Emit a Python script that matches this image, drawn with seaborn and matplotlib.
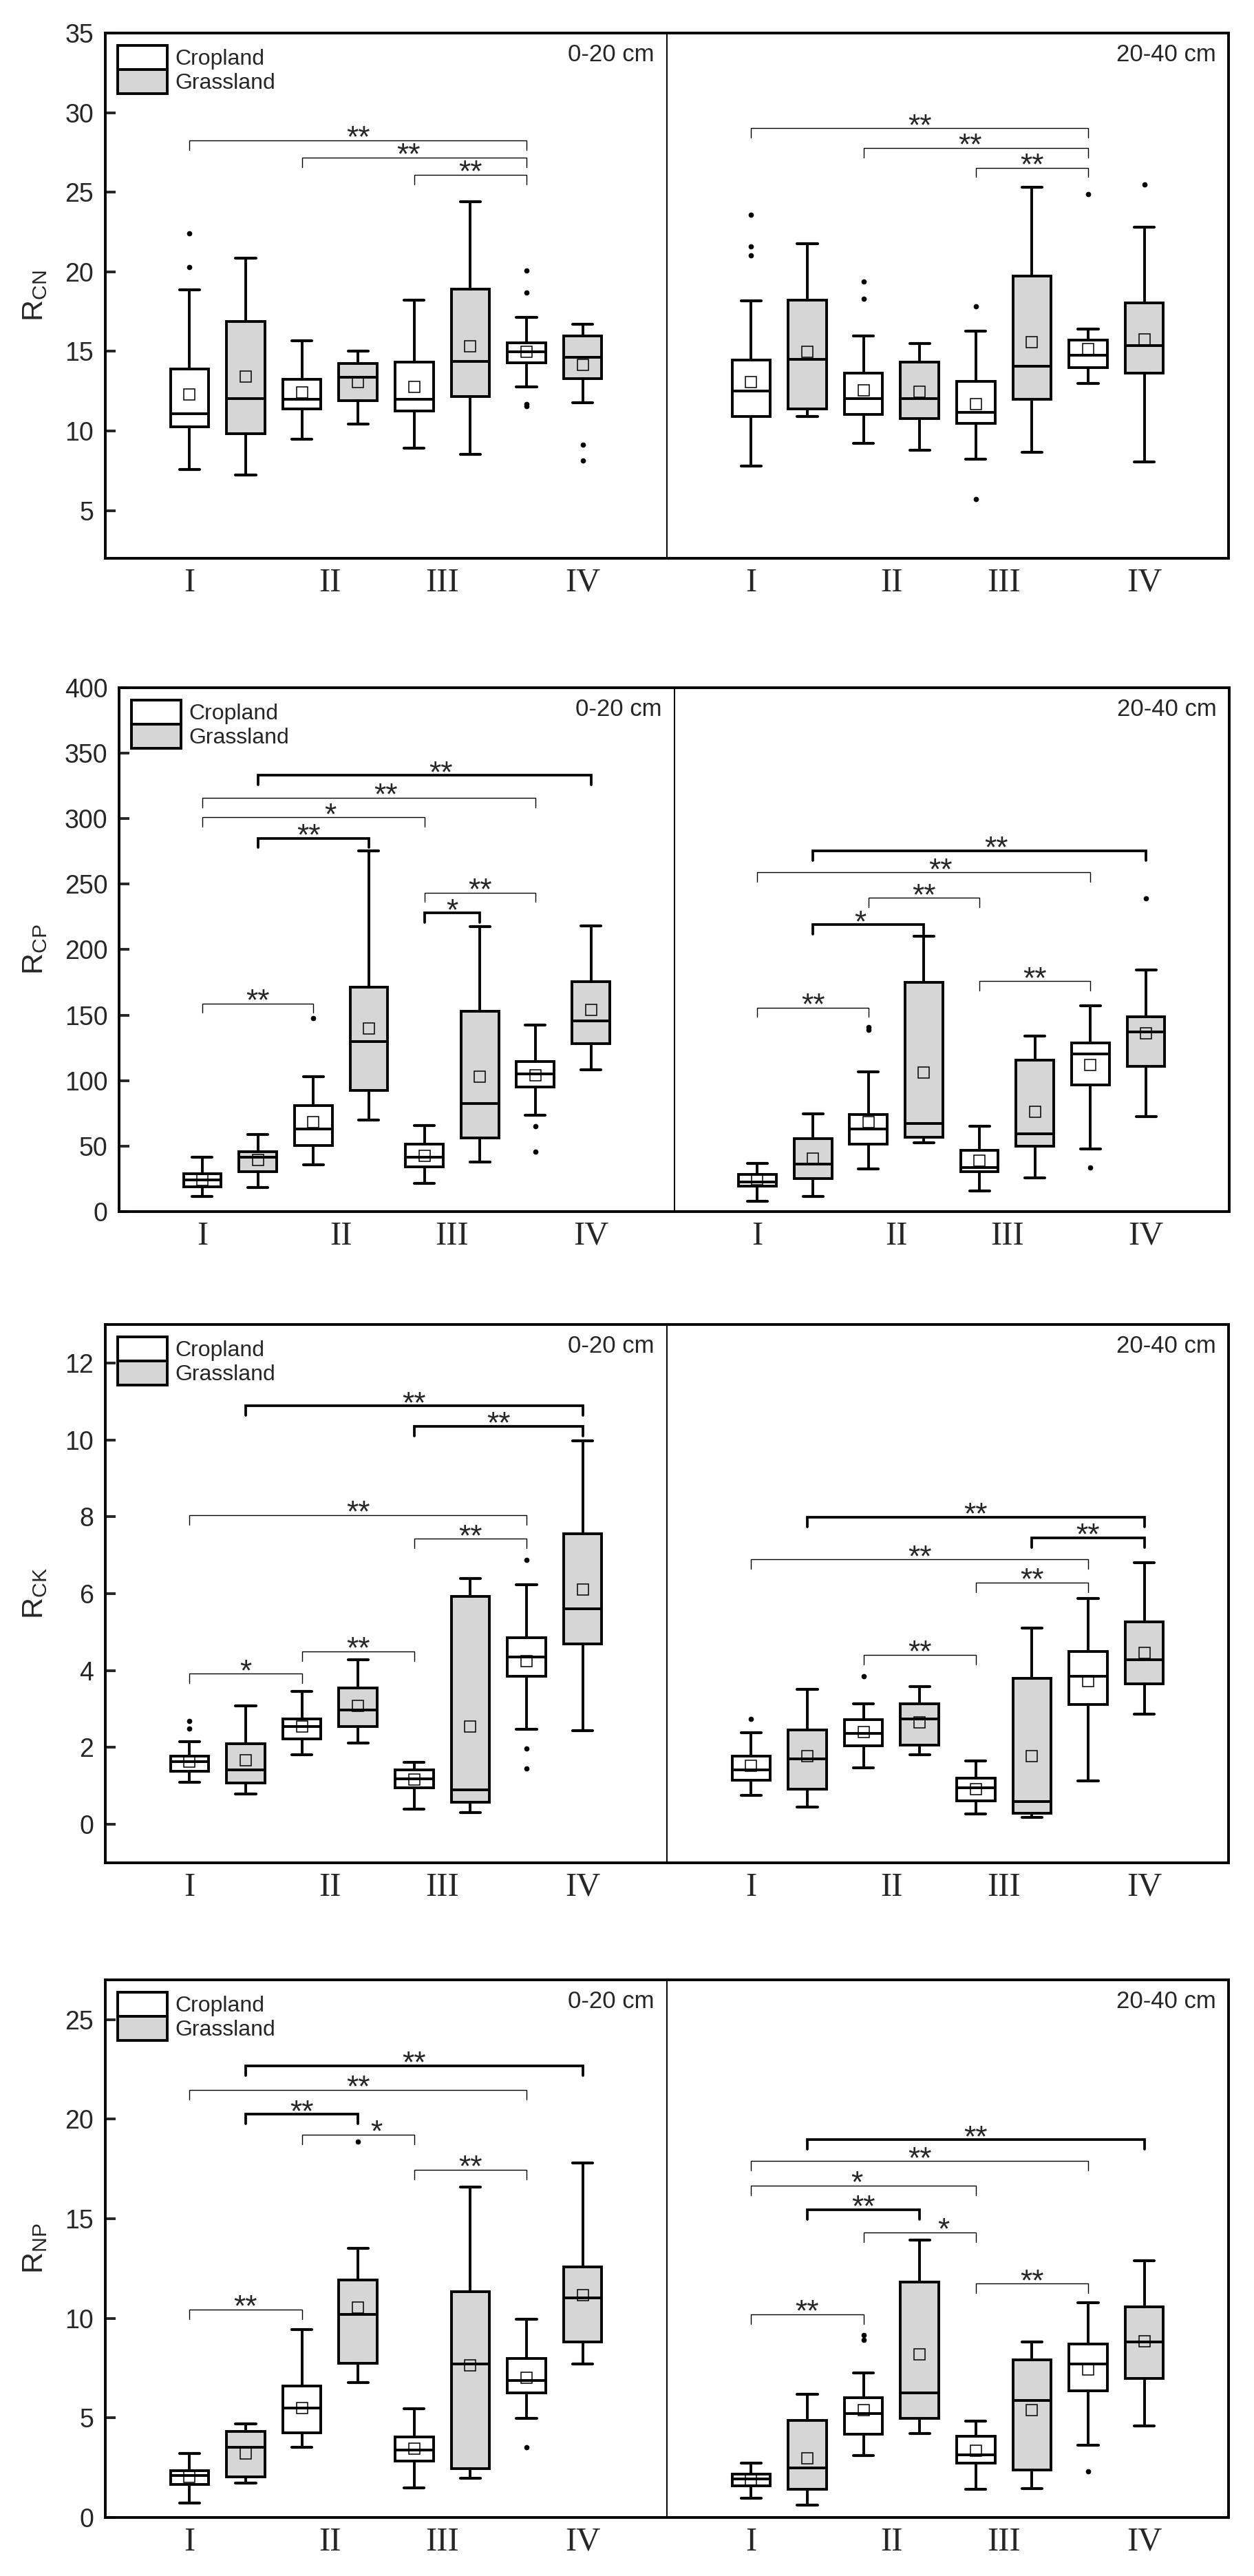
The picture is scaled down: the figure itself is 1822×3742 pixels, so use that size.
import matplotlib
matplotlib.use("Agg")
import matplotlib.pyplot as plt
from matplotlib.patches import Patch
import seaborn as sns

# box order in every list: I, II, III, IV of 0-20 cm then I..IV of 20-40 cm,
# cropland and grassland alternating (C, G, C, G, ...)
positions = [0, 1, 2, 3, 4, 5, 6, 7, 10, 11, 12, 13, 14, 15, 16, 17]
tick_pos = [0, 2.5, 4.5, 7, 10, 12.5, 14.5, 17]
tick_labels = ["I", "II", "III", "IV", "I", "II", "III", "IV"]
land_use = ["Cropland", "Grassland"]
depths = ["0-20 cm", "20-40 cm"]

# ---- R_CN ----
cn_lo = [7.58, 7.23, 9.5, 10.42, 8.94, 8.54, 12.78, 11.77, 7.81, 10.91, 9.22, 8.78, 8.21, 8.64, 12.99, 8.07]
cn_q1 = [10.27, 9.83, 11.38, 11.89, 11.24, 12.17, 14.28, 13.27, 10.91, 11.4, 11.05, 10.77, 10.46, 11.99, 13.98, 13.63]
cn_med = [11.1, 12.03, 11.99, 13.39, 11.99, 14.38, 14.96, 14.63, 12.52, 14.52, 12.03, 12.03, 11.17, 14.07, 14.75, 15.38]
cn_q3 = [13.9, 16.86, 13.25, 14.26, 14.33, 18.9, 15.55, 15.95, 14.47, 18.24, 13.65, 14.33, 13.13, 19.72, 15.69, 18.03]
cn_hi = [18.88, 20.84, 15.67, 15.03, 18.22, 24.39, 17.14, 16.72, 18.17, 21.78, 15.95, 15.5, 16.28, 25.32, 16.39, 22.79]
cn_mean = [12.3, 13.4, 12.43, 13.06, 12.78, 15.34, 14.96, 14.17, 13.06, 14.99, 12.57, 12.45, 11.7, 15.6, 15.13, 15.74]
cn_out = [[22.4, 20.3], [], [], [], [], [], [20.07, 18.69, 11.7, 11.56], [9.15, 8.12],
          [23.59, 21.6, 21.03], [], [19.39, 18.31], [], [17.82, 5.73], [], [24.88], [25.49]]
# significance brackets: (from box, to box, height, label, thick line, star shift)
cn_sig = [(0, 6, 28.25, "**", False, 0), (2, 6, 27.17, "**", False, -0.1), (4, 6, 26.1, "**", False, 0),
          (10, 16, 29.02, "**", False, 0), (12, 16, 27.78, "**", False, -0.1), (14, 16, 26.54, "**", False, 0)]

# ---- R_CP ----
cp_lo = [11.4, 18.2, 35.9, 70.1, 21.4, 37.6, 73.8, 108.3, 7.7, 11.4, 32.8, 52.4, 16, 25.6, 47.6, 72.6]
cp_q1 = [19.1, 30.5, 50.4, 92.6, 34.2, 56.1, 95.2, 128.2, 19.7, 25.4, 51.6, 56.7, 30.5, 49.9, 96.6, 110.8]
cp_med = [24.2, 41.3, 63.2, 129.9, 41.3, 82.3, 105.1, 145.6, 22.8, 36.2, 63, 67.5, 33.9, 59.5, 120.2, 137.3]
cp_q3 = [28.8, 45.9, 80.9, 171.2, 51.3, 153, 114.5, 175.5, 28.5, 55.8, 74.1, 175.2, 46.7, 115.7, 128.8, 149]
cp_hi = [41.3, 58.7, 102.8, 275.2, 65.5, 217.4, 142.4, 218, 36.8, 74.4, 106.8, 210.3, 65, 133.9, 157.3, 184.3]
cp_mean = [24.2, 39.6, 68.4, 139.6, 42.7, 102.8, 104, 154.1, 24.8, 40.5, 68.4, 106, 39, 76.1, 111.7, 135.9]
cp_out = [[], [], [147.6], [], [], [], [65, 45.9], [],
          [], [], [141, 138.7], [], [], [], [33.9], [239]]
cp_sig = [(1, 7, 333, "**", True, 0.3), (0, 6, 316, "**", False, 0.3), (0, 4, 301, "*", False, 0.3),
          (1, 3, 285, "**", True, -0.08), (4, 6, 243.6, "**", False, 0), (4, 5, 228, "*", True, 0),
          (0, 2, 159, "**", False, 0),
          (11, 17, 275.5, "**", True, 0.3), (10, 16, 259, "**", False, 0.3), (12, 14, 239.6, "**", False, 0),
          (11, 13, 219, "*", True, -0.15), (14, 16, 176, "**", False, 0), (10, 12, 155.8, "**", False, 0)]

# ---- R_CK ----
ck_lo = [1.10, 0.79, 1.81, 2.12, 0.39, 0.31, 2.48, 2.44, 0.75, 0.45, 1.47, 1.81, 0.27, 0.18, 1.13, 2.86]
ck_q1 = [1.39, 1.07, 2.22, 2.54, 0.95, 0.58, 3.86, 4.70, 1.15, 0.91, 2.05, 2.06, 0.61, 0.29, 3.11, 3.65]
ck_med = [1.64, 1.41, 2.54, 2.97, 1.18, 0.89, 4.35, 5.61, 1.42, 1.71, 2.37, 2.75, 0.95, 0.59, 3.86, 4.29]
ck_q3 = [1.78, 2.10, 2.74, 3.54, 1.42, 5.93, 4.86, 7.56, 1.78, 2.45, 2.73, 3.14, 1.20, 3.80, 4.49, 5.26]
ck_hi = [2.15, 3.08, 3.45, 4.28, 1.62, 6.40, 6.23, 9.97, 2.39, 3.52, 3.14, 3.59, 1.65, 5.11, 5.87, 6.81]
ck_mean = [1.64, 1.66, 2.54, 3.09, 1.16, 2.55, 4.24, 6.11, 1.52, 1.78, 2.40, 2.65, 0.92, 1.78, 3.72, 4.46]
ck_out = [[2.69, 2.49], [], [], [], [], [], [6.87, 1.98, 1.46], [],
          [2.75], [], [3.85], [], [], [], [], []]
ck_sig = [(1, 7, 10.88, "**", True, 0), (4, 7, 10.35, "**", True, 0), (0, 6, 8.04, "**", False, 0),
          (4, 6, 7.43, "**", False, 0), (2, 4, 4.50, "**", False, 0), (0, 2, 3.92, "*", False, 0),
          (11, 17, 7.99, "**", True, 0), (15, 17, 7.45, "**", True, 0), (10, 16, 6.89, "**", False, 0),
          (14, 16, 6.29, "**", False, 0), (12, 14, 4.41, "**", False, 0)]

# ---- R_NP ----
np_lo = [0.71, 1.73, 3.53, 6.76, 1.48, 1.97, 4.98, 7.70, 0.98, 0.62, 3.12, 4.23, 1.41, 1.45, 3.64, 4.60]
np_q1 = [1.65, 2.03, 4.24, 7.76, 2.82, 2.46, 6.25, 8.83, 1.60, 1.41, 4.19, 4.98, 2.72, 2.37, 6.35, 6.97]
np_med = [2.10, 3.53, 5.48, 10.20, 3.40, 7.70, 6.87, 11.04, 1.92, 2.50, 5.22, 6.25, 3.14, 5.88, 7.72, 8.83]
np_q3 = [2.35, 4.32, 6.59, 11.93, 4.06, 11.33, 7.98, 12.60, 2.18, 4.88, 6.01, 11.81, 4.09, 7.93, 8.70, 10.57]
np_hi = [3.21, 4.71, 9.45, 13.52, 5.47, 16.59, 9.97, 17.79, 2.74, 6.20, 7.25, 13.92, 4.85, 8.83, 10.80, 12.90]
np_mean = [2.03, 3.23, 5.50, 10.54, 3.44, 7.63, 7.02, 11.18, 1.90, 2.99, 5.41, 8.19, 3.34, 5.41, 7.42, 8.85]
np_out = [[], [], [], [18.88], [], [], [3.53], [],
          [], [], [9.17, 8.92], [], [], [], [2.31], []]
np_sig = [(1, 7, 22.69, "**", True, 0), (0, 6, 21.47, "**", False, 0), (1, 3, 20.25, "**", True, 0),
          (2, 4, 19.23, "*", False, 0.33), (4, 6, 17.47, "**", False, 0), (0, 2, 10.44, "**", False, 0),
          (11, 17, 18.97, "**", True, 0), (10, 16, 17.90, "**", False, 0), (10, 14, 16.66, "*", False, -0.12),
          (11, 13, 15.46, "**", True, 0), (12, 14, 14.31, "*", False, 0.43), (14, 16, 11.74, "**", False, 0),
          (10, 12, 10.20, "**", False, 0)]

panels = [
    ("CN", (2, 35), range(5, 36, 5), cn_lo, cn_q1, cn_med, cn_q3, cn_hi, cn_mean, cn_out, cn_sig),
    ("CP", (0, 400), range(0, 401, 50), cp_lo, cp_q1, cp_med, cp_q3, cp_hi, cp_mean, cp_out, cp_sig),
    ("CK", (-1, 13), range(0, 13, 2), ck_lo, ck_q1, ck_med, ck_q3, ck_hi, ck_mean, ck_out, ck_sig),
    ("NP", (0, 27), range(0, 26, 5), np_lo, np_q1, np_med, np_q3, np_hi, np_mean, np_out, np_sig),
]

# axes boxes in pixels (left, top, right, bottom)
boxes_px = [(153, 48, 1785, 811), (173, 999, 1786, 1760), (153, 1924, 1785, 2706), (153, 2876, 1785, 3657)]
W, H = 1822, 3742
GRASS = "#d6d6d6"

sns.set_style("ticks")
plt.rcParams["font.family"] = ["Liberation Sans", "DejaVu Sans"]
plt.rcParams["mathtext.default"] = "regular"

fig = plt.figure(figsize=(W / 100, H / 100), dpi=100)

for (name, ylim, yticks, lo, q1, med, q3, hi, mean, out, sig), (l, t, r, b) in zip(panels, boxes_px):
    ax = fig.add_axes([l / W, 1 - b / H, (r - l) / W, (b - t) / H])

    stats = [dict(whislo=lo[i], q1=q1[i], med=med[i], q3=q3[i], whishi=hi[i],
                  mean=mean[i], fliers=out[i]) for i in range(len(positions))]
    for k, fc in enumerate(["white", GRASS]):
        idx = list(range(k, len(positions), 2))
        ax.bxp([stats[i] for i in idx], positions=[positions[i] for i in idx],
               widths=0.68, capwidths=0.36, showmeans=True, patch_artist=True,
               manage_ticks=False,
               boxprops=dict(facecolor=fc, edgecolor="black", linewidth=2.8),
               medianprops=dict(color="black", linewidth=2.8),
               whiskerprops=dict(color="black", linewidth=2.8),
               capprops=dict(color="black", linewidth=3.0, solid_capstyle="round"),
               meanprops=dict(marker="s", markerfacecolor="none", markeredgecolor="black",
                              markersize=11, markeredgewidth=1.1),
               flierprops=dict(marker="o", markerfacecolor="black", markeredgecolor="black",
                               markersize=4.5))

    drop = 0.018 * (ylim[1] - ylim[0])
    for x1, x2, y, txt, thick, dx in sig:
        ax.plot([x1, x1, x2, x2], [y - drop, y, y, y - drop], color="black",
                lw=2.7 if thick else 1.0, solid_joinstyle="miter")
        ax.annotate(txt, xy=((x1 + x2) / 2 + dx, y), xytext=(0, -7), textcoords="offset points",
                    ha="center", va="baseline", fontsize=32)

    ax.axvline(8.5, color="black", lw=1.4)
    ax.set_xlim(-1.5, 18.5)
    ax.set_ylim(*ylim)
    ax.set_yticks(list(yticks))
    ax.set_xticks(tick_pos)
    ax.set_xticklabels(tick_labels, fontfamily="Liberation Serif", fontsize=35)
    ax.tick_params(axis="x", length=0, pad=10)
    ax.tick_params(axis="y", direction="in", length=11, width=2.8, labelsize=27, pad=12)
    for sp in ax.spines.values():
        sp.set_linewidth(2.8)
        sp.set_color("black")

    ax.set_ylabel(r"R$_{\mathregular{%s}}$" % name, fontsize=31)
    ax.yaxis.set_label_coords((71 - l) / (r - l), 0.5)

    for xr, lab in zip([8.5, 18.5], depths):
        ax.annotate(lab, xy=(xr, 1), xycoords=("data", "axes fraction"), xytext=(-13, -11),
                    textcoords="offset points", ha="right", va="top", fontsize=25)

    handles = [Patch(facecolor=fc, edgecolor="black", linewidth=2.8, label=lab)
               for fc, lab in zip(["white", GRASS], land_use)]
    ax.legend(handles=handles, loc="upper left", frameon=False, fontsize=23,
              handlelength=2.26, handleheight=1.31, labelspacing=0.0, handletextpad=0.35,
              borderaxespad=0.25, borderpad=0.3)

fig.savefig("out.png", dpi=100)
